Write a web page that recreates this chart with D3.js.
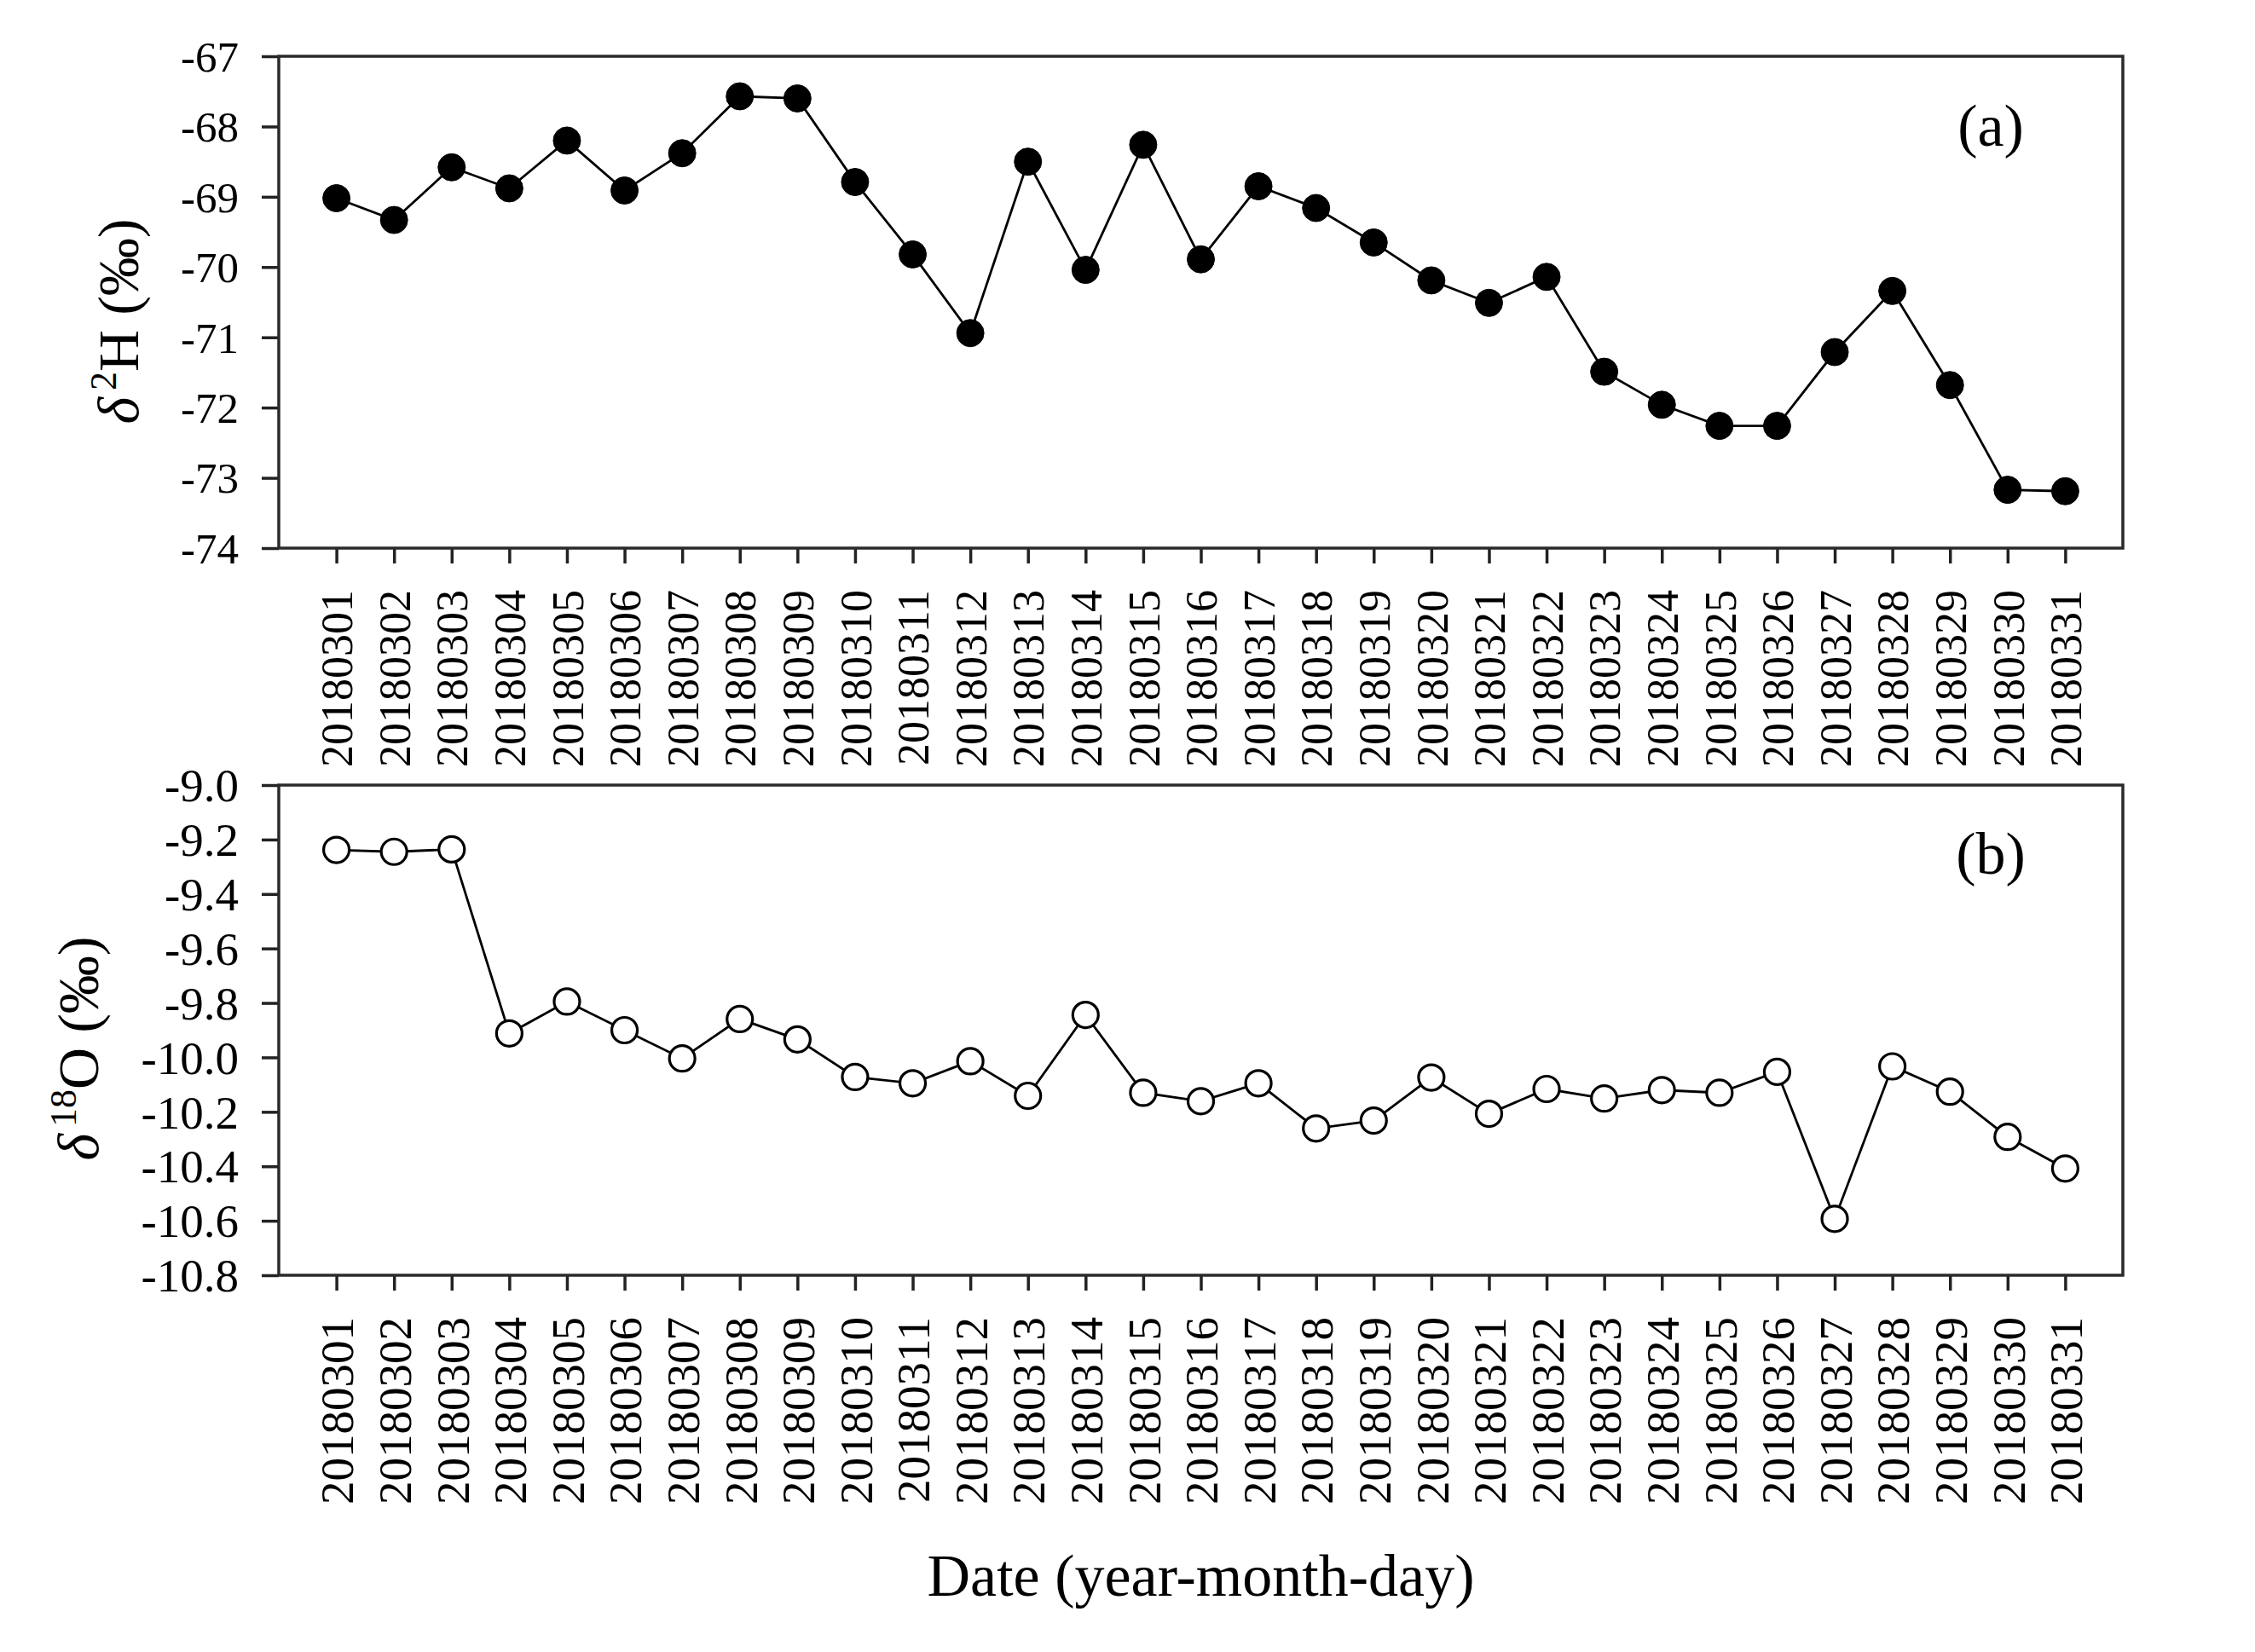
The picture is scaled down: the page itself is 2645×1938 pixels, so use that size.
<!DOCTYPE html>
<html>
<meta charset="utf-8">
<head>
  <style>
    body { margin: 0; background: #fff; }
    text { font-family: "Liberation Serif", "Times New Roman", serif; fill: #000; }
  </style>
</head>
<body>
<svg id="canvas" width="2645" height="1938"></svg>
<script src="https://d3js.org/d3.v7.min.js"></script>
<script>

// dates (x tick labels)
var dates = ['20180301','20180302','20180303','20180304','20180305','20180306','20180307','20180308',
             '20180309','20180310','20180311','20180312','20180313','20180314','20180315','20180316',
             '20180317','20180318','20180319','20180320','20180321','20180322','20180323','20180324',
             '20180325','20180326','20180327','20180328','20180329','20180330','20180331'];

// delta 2H (permil)
var d2H = [-69.02, -69.33, -68.58, -68.88, -68.20, -68.91, -68.38, -67.57, -67.60, -68.79, -69.82,
           -70.94, -68.50, -70.04, -68.26, -69.89, -68.85, -69.16, -69.65, -70.19, -70.51, -70.14,
           -71.49, -71.96, -72.26, -72.26, -71.21, -70.34, -71.68, -73.17, -73.19];

// delta 18O (permil)
var d18O = [-9.238, -9.245, -9.236, -9.912, -9.795, -9.900, -10.004, -9.859, -9.934, -10.072, -10.095,
            -10.014, -10.141, -9.844, -10.130, -10.161, -10.095, -10.261, -10.232, -10.074, -10.207, -10.116,
            -10.151, -10.120, -10.130, -10.053, -10.593, -10.033, -10.126, -10.292, -10.408];

var yTicksH = [-67, -68, -69, -70, -71, -72, -73, -74];
var yTicksO = [-9.0, -9.2, -9.4, -9.6, -9.8, -10.0, -10.2, -10.4, -10.6, -10.8];

var svg = d3.select('#canvas');
svg.append('rect').attr('width', 2645).attr('height', 1938).attr('fill', '#fff');

var left = 327, right = 2490;

// x position: day index 1..31 inside a 0..32 frame
var x = d3.scaleLinear().domain([0, 32]).range([left, right]);

function panel(opts) {
  var y = d3.scaleLinear().domain([opts.ticks[opts.ticks.length - 1], opts.ticks[0]])
    .range([opts.bottom, opts.top]);
  var g = svg.append('g');

  // y axis
  var ya = g.append('g')
    .attr('transform', 'translate(' + left + ',0)')
    .call(d3.axisLeft(y).tickValues(opts.ticks).tickSize(20).tickPadding(27)
      .tickFormat(opts.fmt));
  ya.select('.domain').remove();
  ya.selectAll('.tick line').attr('stroke', '#222').attr('stroke-width', 3.5);
  ya.selectAll('.tick text').attr('font-size', opts.ySize).attr('dy', '0.34em')
    .style('font-family', '"Liberation Serif", serif');

  // x axis
  var xa = g.append('g')
    .attr('transform', 'translate(0,' + opts.bottom + ')')
    .call(d3.axisBottom(x).tickValues(d3.range(1, dates.length + 1)).tickSize(18)
      .tickFormat(function(d) { return dates[d - 1]; }));
  xa.select('.domain').remove();
  xa.selectAll('.tick line').attr('stroke', '#222').attr('stroke-width', 3.5);
  xa.selectAll('.tick text')
    .attr('font-size', opts.xSize)
    .attr('transform', 'rotate(-90)')
    .attr('x', -49).attr('y', 0).attr('dy', '0.35em')
    .style('text-anchor', 'end')
    .style('font-family', '"Liberation Serif", serif');

  // frame
  g.append('rect')
    .attr('x', left).attr('y', opts.top)
    .attr('width', right - left).attr('height', opts.bottom - opts.top)
    .attr('fill', 'none').attr('stroke', '#2a2a2a').attr('stroke-width', 3.5);

  // line
  var line = d3.line()
    .x(function(d, i) { return x(i + 1); })
    .y(function(d) { return y(d); });
  g.append('path').datum(opts.values)
    .attr('d', line).attr('fill', 'none').attr('stroke', '#000').attr('stroke-width', 2.8);

  // markers
  g.selectAll('circle.pt').data(opts.values).enter()
    .append('circle')
    .attr('class', 'pt')
    .attr('cx', function(d, i) { return x(i + 1); })
    .attr('cy', function(d) { return y(d); })
    .attr('r', opts.filled ? 16 : 15)
    .attr('fill', opts.filled ? '#000' : '#fff')
    .attr('stroke', '#000')
    .attr('stroke-width', opts.filled ? 1 : 3.2);

  // panel letter
  g.append('text')
    .attr('x', 2335).attr('y', opts.letterY)
    .attr('text-anchor', 'middle').attr('font-size', 70)
    .text(opts.letter);

  // y title
  var t = g.append('text')
    .attr('transform', 'translate(' + opts.titleX + ',' + opts.titleY + ') rotate(-90)')
    .attr('text-anchor', 'middle').attr('font-size', 68);
  t.append('tspan').style('font-style', 'italic').text('\u03b4');
  t.append('tspan').attr('font-size', 44).attr('dx', 8).attr('dy', -26).text(opts.iso);
  t.append('tspan').attr('dy', 26).text(opts.elem + ' (\u2030)');
}

var fmtInt = function(d) { return String(d); };
var fmtOne = function(d) { return d.toFixed(1); };

panel({ top: 66, bottom: 643, ticks: yTicksH, fmt: fmtInt, values: d2H, filled: true,
        ySize: 51, xSize: 52,
        letter: '(a)', letterY: 171, titleX: 162, titleY: 377, iso: '2', elem: 'H' });

panel({ top: 921, bottom: 1496, ticks: yTicksO, fmt: fmtOne, values: d18O, filled: false,
        ySize: 55, xSize: 55,
        letter: '(b)', letterY: 1025, titleX: 115, titleY: 1230, iso: '18', elem: 'O' });

// x title
svg.append('text')
  .attr('x', (left + right) / 2).attr('y', 1872)
  .attr('text-anchor', 'middle').attr('font-size', 70)
  .text('Date (year-month-day)');

</script>
</body>
</html>
